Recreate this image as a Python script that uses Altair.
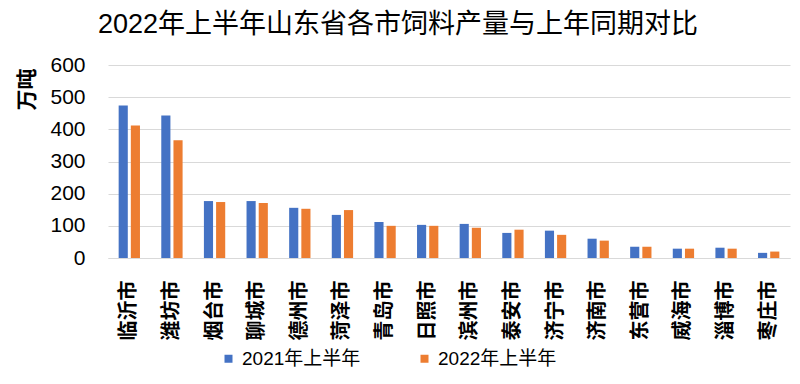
import altair as alt
import pandas as pd

cities = ["临沂市", "潍坊市", "烟台市", "聊城市", "德州市", "菏泽市", "青岛市", "日照市",
          "滨州市", "泰安市", "济宁市", "济南市", "东营市", "威海市", "淄博市", "枣庄市"]
y2021 = [474, 443, 177, 177, 156, 134, 112, 103, 106, 78, 85, 60, 35, 29, 32, 16]
y2022 = [412, 366, 174, 171, 153, 149, 100, 100, 94, 88, 72, 54, 35, 29, 29, 20]
series = ["2021年上半年", "2022年上半年"]
colors = ["#4472C4", "#ED7D31"]
y_ticks = [0, 100, 200, 300, 400, 500, 600]

rows = []
for c, a, b in zip(cities, y2021, y2022):
    rows.append({"city": c, "series": series[0], "value": a})
    rows.append({"city": c, "series": series[1], "value": b})
df = pd.DataFrame(rows)

font = "'Liberation Sans', 'Noto Sans CJK SC', sans-serif"

chart = alt.Chart(df).mark_bar().encode(
    x=alt.X("city:N", sort=cities,
            scale=alt.Scale(paddingInner=0.5, paddingOuter=0.25),
            axis=alt.Axis(title=None, labelAngle=-90, labelFontSize=20, labelFontWeight="bold",
                          labelPadding=22, ticks=False, domainColor="#D9D9D9", grid=False,
                          labelColor="#000000", labelFont=font)),
    xOffset=alt.XOffset("series:N", sort=series, scale=alt.Scale(paddingInner=0.25)),
    y=alt.Y("value:Q", scale=alt.Scale(domain=[0, 600]),
            axis=alt.Axis(values=y_ticks, title="万吨", titleX=-81, titleY=24, titleAngle=-90,
                          titleAlign="center", titleBaseline="middle", titleFontSize=21,
                          titleFontWeight="bold", titleFont=font, titleColor="#000000",
                          labelFontSize=21, labelFont=font, labelColor="#000000",
                          labelPadding=23, ticks=False, domain=False,
                          gridColor="#D9D9D9", gridWidth=1)),
    color=alt.Color("series:N", sort=series,
                    scale=alt.Scale(domain=series, range=colors),
                    legend=alt.Legend(title=None, orient="none", legendX=111, legendY=284,
                                      direction="horizontal", symbolType="square",
                                      symbolSize=64, symbolStrokeWidth=0,
                                      labelFontSize=19, labelFont=font, labelColor="#000000",
                                      columnPadding=54))
).properties(
    width=682, height=193,
    padding={"left": 100, "top": 57, "right": 2, "bottom": 110},
    autosize=alt.AutoSizeParams(type="none"),
    title=alt.Title("2022年上半年山东省各市饲料产量与上年同期对比", fontSize=27, font=font,
                    fontWeight="normal", color="#000000", anchor="middle", dx=-51, offset=15)
).configure_view(stroke=None)

chart.save("out.html", embed_options={"renderer": "svg", "actions": False})
